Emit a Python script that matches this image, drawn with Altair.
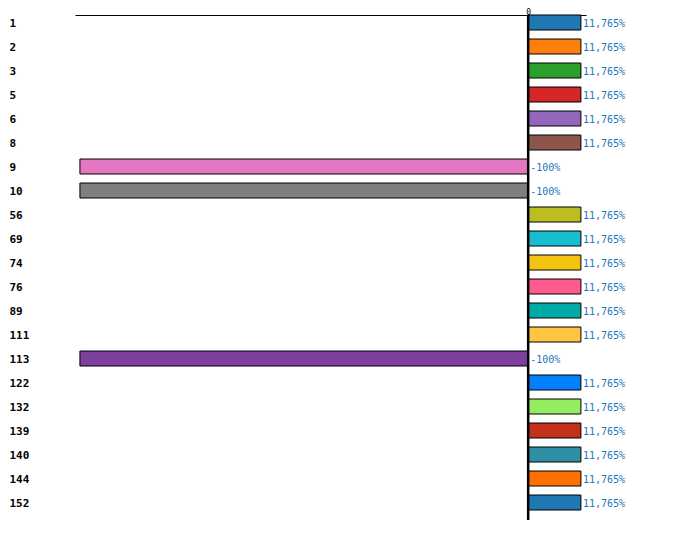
import altair as alt
import pandas as pd

categories = ["1", "2", "3", "5", "6", "8", "9", "10", "56", "69", "74", "76",
              "89", "111", "113", "122", "132", "139", "140", "144", "152"]
values = [11.765, 11.765, 11.765, 11.765, 11.765, 11.765, -100, -100, 11.765,
          11.765, 11.765, 11.765, 11.765, 11.765, -100, 11.765, 11.765, 11.765,
          11.765, 11.765, 11.765]
labels = ["11,765%" if v > 0 else "-100%" for v in values]
colors = ["#1f77b4", "#ff7f0e", "#2ca02c", "#d62728", "#9467bd", "#8c564b",
          "#e377c2", "#7f7f7f", "#bcbd22", "#17becf", "#f2c40f", "#ff5b8e",
          "#00aaa7", "#ffc440", "#7e3f9e", "#0080ff", "#95ec5f", "#c3301b",
          "#2f8fa5", "#ff7000", "#1f77b4"]

df = pd.DataFrame({"cat": categories, "value": values, "label": labels})

FONT = "DejaVu Sans Mono"

y_enc = alt.Y("cat:N", sort=categories,
              scale=alt.Scale(paddingInner=0.375, paddingOuter=0.2083, align=0),
              axis=alt.Axis(title=None, orient="left", ticks=False, domain=False,
                            labelAlign="left", labelPadding=66, labelFontSize=11,
                            labelFontWeight="bold", labelFont=FONT, labelColor="#000",
                            labelOffset=1))
x_scale = alt.Scale(domain=[-101.1, 12.9], nice=False, zero=False)

bars = alt.Chart(df).mark_bar(stroke="black", strokeWidth=1).encode(
    x=alt.X("value:Q", scale=x_scale,
            axis=alt.Axis(title=None, orient="top", values=[0], ticks=False,
                          grid=False, domainColor="#000", domainWidth=1,
                          labelFontSize=8, labelFont=FONT, labelColor="#000",
                          labelPadding=1, labelBaseline="alphabetic")),
    x2=alt.datum(0),
    y=y_enc,
    color=alt.Color("cat:N", sort=categories,
                    scale=alt.Scale(domain=categories, range=colors), legend=None),
)

text = alt.Chart(df).mark_text(align="left", baseline="middle", font=FONT,
                               fontSize=10, color="#1a78bd", dx=2, dy=1).encode(
    x=alt.X("tx:Q", scale=x_scale),
    y=alt.Y("cat:N", sort=categories),
    text="label:N",
).transform_calculate(tx="max(datum.value, 0)")

zero = alt.Chart(pd.DataFrame({"z": [0]})).mark_rule(color="black", strokeWidth=2.5).encode(
    x=alt.X("z:Q", scale=x_scale)
)

chart = alt.layer(bars, text, zero).properties(
    width=511, height=505,
    autosize=alt.AutoSizeParams(type="none"),
    padding={"left": 67, "top": 7, "right": 60, "bottom": 20},
).configure_view(stroke=None)

chart.save("out.html", embed_options={"renderer": "svg", "actions": False})
